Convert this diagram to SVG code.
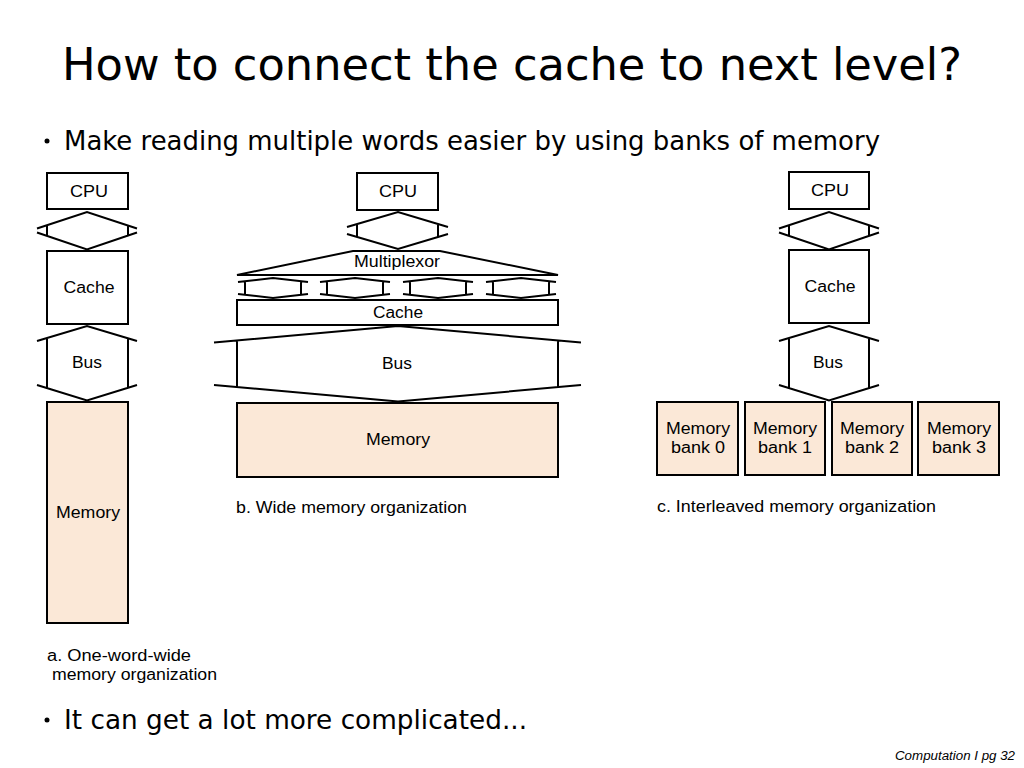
<svg xmlns="http://www.w3.org/2000/svg" width="1024" height="768" viewBox="0 0 1024 768">
<style>
.box{fill:#fff;stroke:#000;stroke-width:2}
.mem{fill:#FBE8D7;stroke:#000;stroke-width:2}
.bus{fill:none;stroke:#000;stroke-width:2;stroke-linejoin:miter}
.lbl{font-family:"Liberation Sans",Arial,sans-serif;font-size:16px;fill:#000;text-anchor:middle}
.cap{font-family:"Liberation Sans",Arial,sans-serif;font-size:16px;fill:#000}
.title{font-family:"Comic Sans MS","DejaVu Sans",sans-serif;font-size:44px;fill:#000}
.bul{font-family:"Comic Sans MS","DejaVu Sans",sans-serif;font-size:27px;fill:#000}
</style>
<rect width="1024" height="768" fill="#fff"/>
<text class="title" x="62" y="80" textLength="900" lengthAdjust="spacingAndGlyphs">How to connect the cache to next level?</text>
<circle cx="47" cy="141" r="2.5" fill="#000"/>
<text class="bul" x="64" y="150" textLength="816" lengthAdjust="spacingAndGlyphs">Make reading multiple words easier by using banks of memory</text>
<circle cx="47" cy="720" r="2.5" fill="#000"/>
<text class="bul" x="64" y="729" textLength="463" lengthAdjust="spacingAndGlyphs">It can get a lot more complicated...</text>
<text x="895" y="760" font-family="Liberation Sans,Arial,sans-serif" font-size="12" font-style="italic" textLength="120" lengthAdjust="spacingAndGlyphs">Computation I  pg 32</text>

<g id="connectors">
  <!-- a: CPU-Cache bus -->
  <path class="bus" d="M37,228.5 L87,212 L137,228.5 M37,232.5 L87,249.5 L137,232.5 M47,225.2 V236.3 M128,225.5 V236"/>
  <!-- a: Cache-Memory bus -->
  <path class="bus" d="M37,341 L87,326 L137,341 M37,385 L87,400.5 L137,385 M47,338 V388.5 M128,338.3 V388.2"/>
  <!-- b: CPU-Multiplexor bus -->
  <path class="bus" d="M347,227 L398,212 L448,227 M347,234 L398,249 L448,234 M357,224.1 V236.9 M438,223.8 V237.2"/>
  <!-- b: small buses -->
  <path class="bus" d="M238,282 L273,278 L308,282 M238,294 L273,298 L308,294 M245,281.2 V294.8 M301,281.2 V294.8"/>
  <path class="bus" d="M320,282 L355,278 L390,282 M320,294 L355,298 L390,294 M327,281.2 V294.8 M383,281.2 V294.8"/>
  <path class="bus" d="M403,282 L438,278 L473,282 M403,294 L438,298 L473,294 M410,281.2 V294.8 M466,281.2 V294.8"/>
  <path class="bus" d="M486,282 L521,278 L556,282 M486,294 L521,298 L556,294 M493,281.2 V294.8 M549,281.2 V294.8"/>
  <!-- b: Cache-Memory bus -->
  <path class="bus" d="M214,342.5 L398,326 L581,342.5 M214,385 L398,401.5 L581,385 M237,340.4 V387.1 M558,340.4 V387.1"/>
  <!-- c: CPU-Cache bus -->
  <path class="bus" d="M779,228.5 L829,212 L879,228.5 M779,232.5 L829,249.5 L879,232.5 M789,225.2 V236.3 M869,225.5 V236"/>
  <!-- c: Cache-Memory bus -->
  <path class="bus" d="M779,341 L829,326 L879,341 M779,385 L829,400.5 L879,385 M789,338 V388.5 M869,338.3 V388.2"/>
</g>

<g id="a-cpu"><rect class="box" x="47" y="173" width="81" height="36"/><text class="lbl" x="89" y="197" textLength="38" lengthAdjust="spacingAndGlyphs">CPU</text></g>
<g id="a-cache"><rect class="box" x="47" y="251" width="81" height="73"/><text class="lbl" x="89" y="293" textLength="51" lengthAdjust="spacingAndGlyphs">Cache</text></g>
<g id="a-bus-label"><text class="lbl" x="87" y="368" textLength="30" lengthAdjust="spacingAndGlyphs">Bus</text></g>
<g id="a-memory"><rect class="mem" x="47" y="402" width="81" height="221"/><text class="lbl" x="88" y="518" textLength="64" lengthAdjust="spacingAndGlyphs">Memory</text></g>
<g id="a-caption"><text class="cap" x="47" y="661" textLength="144" lengthAdjust="spacingAndGlyphs">a. One-word-wide</text><text class="cap" x="52" y="680" textLength="165" lengthAdjust="spacingAndGlyphs">memory organization</text></g>

<g id="b-cpu"><rect class="box" x="357" y="173" width="81" height="37"/><text class="lbl" x="398" y="197" textLength="38" lengthAdjust="spacingAndGlyphs">CPU</text></g>
<g id="b-mux"><polygon class="box" points="353,251 440,251 558,275 237,275"/><text class="lbl" x="397" y="267" textLength="86" lengthAdjust="spacingAndGlyphs">Multiplexor</text></g>
<g id="b-cache"><rect class="box" x="237" y="300" width="321" height="25"/><text class="lbl" x="398" y="318" textLength="50" lengthAdjust="spacingAndGlyphs">Cache</text></g>
<g id="b-bus-label"><text class="lbl" x="397" y="369" textLength="30" lengthAdjust="spacingAndGlyphs">Bus</text></g>
<g id="b-memory"><rect class="mem" x="237" y="403" width="321" height="74"/><text class="lbl" x="398" y="445" textLength="64" lengthAdjust="spacingAndGlyphs">Memory</text></g>
<g id="b-caption"><text class="cap" x="236" y="513" textLength="231" lengthAdjust="spacingAndGlyphs">b. Wide memory organization</text></g>

<g id="c-cpu"><rect class="box" x="789" y="172" width="80" height="37"/><text class="lbl" x="830" y="196" textLength="38" lengthAdjust="spacingAndGlyphs">CPU</text></g>
<g id="c-cache"><rect class="box" x="789" y="250" width="80" height="73"/><text class="lbl" x="830" y="292" textLength="51" lengthAdjust="spacingAndGlyphs">Cache</text></g>
<g id="c-bus-label"><text class="lbl" x="828" y="368" textLength="30" lengthAdjust="spacingAndGlyphs">Bus</text></g>
<g id="c-bank0"><rect class="mem" x="657" y="402" width="81" height="73"/><text class="lbl" x="698" y="434" textLength="64" lengthAdjust="spacingAndGlyphs">Memory</text><text class="lbl" x="698" y="453" textLength="54" lengthAdjust="spacingAndGlyphs">bank 0</text></g>
<g id="c-bank1"><rect class="mem" x="745" y="402" width="80" height="73"/><text class="lbl" x="785" y="434" textLength="64" lengthAdjust="spacingAndGlyphs">Memory</text><text class="lbl" x="785" y="453" textLength="54" lengthAdjust="spacingAndGlyphs">bank 1</text></g>
<g id="c-bank2"><rect class="mem" x="832" y="402" width="80" height="73"/><text class="lbl" x="872" y="434" textLength="64" lengthAdjust="spacingAndGlyphs">Memory</text><text class="lbl" x="872" y="453" textLength="54" lengthAdjust="spacingAndGlyphs">bank 2</text></g>
<g id="c-bank3"><rect class="mem" x="918" y="402" width="81" height="73"/><text class="lbl" x="959" y="434" textLength="64" lengthAdjust="spacingAndGlyphs">Memory</text><text class="lbl" x="959" y="453" textLength="54" lengthAdjust="spacingAndGlyphs">bank 3</text></g>
<g id="c-caption"><text class="cap" x="657" y="512" textLength="279" lengthAdjust="spacingAndGlyphs">c. Interleaved memory organization</text></g>
</svg>
